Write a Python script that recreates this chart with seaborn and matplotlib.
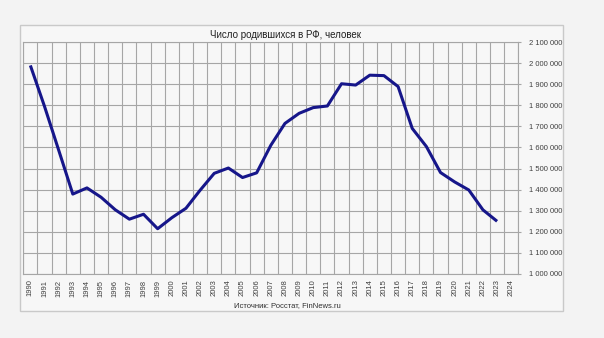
import matplotlib
matplotlib.use("Agg")
import matplotlib.pyplot as plt
from matplotlib.patches import Rectangle
from matplotlib.ticker import FuncFormatter, MultipleLocator
import seaborn as sns
import pandas as pd
import numpy as np

years = list(range(1990, 2024))
births = [1988858, 1794626, 1587644, 1378983, 1408159, 1363806, 1304638, 1259943,
          1283292, 1214689, 1266800, 1311604, 1396967, 1477301, 1502477, 1457376,
          1479637, 1610122, 1713947, 1761687, 1788948, 1796629, 1902084, 1895822,
          1942683, 1940579, 1888729, 1690307, 1604344, 1481074, 1436514, 1398253,
          1304087, 1250000]
tick_years = list(range(1990, 2025))
title = "Число родившихся в РФ, человек"
source = "Источник: Росстат, FinNews.ru"

df = pd.DataFrame({"year": years, "births": births})

sns.set_theme(style="white")
plt.rcParams["font.family"] = ["Liberation Sans", "DejaVu Sans"]

W, H = 604, 338
fig = plt.figure(figsize=(W / 100, H / 100), dpi=100, facecolor="#f3f3f3")

# chart frame
fx0, fy0, fx1, fy1 = 20, 25, 563, 311
fig.patches.append(Rectangle((fx0 / W, 1 - fy1 / H), (fx1 - fx0) / W, (fy1 - fy0) / H,
                             transform=fig.transFigure, facecolor="#f7f7f7",
                             edgecolor="#c9c9c9", linewidth=1.0, zorder=-5))

px0, py0, px1, py1 = 23.3, 42, 518.3, 274
ax = fig.add_axes([px0 / W, 1 - py1 / H, (px1 - px0) / W, (py1 - py0) / H])
ax.set_zorder(5)
ax.set_facecolor("#f7f7f7")

sns.lineplot(data=df, x="year", y="births", ax=ax, color="#16168a", linewidth=2.2,
             solid_capstyle="butt")

ax.set_xlim(1989.5, 2024.5)
ax.set_ylim(1_000_000, 2_100_000)
ax.set_xticks(tick_years)
ax.set_xticklabels([str(y) for y in tick_years], rotation=90, fontsize=5.5, color="#404040")
ax.set_xticks(np.arange(1989.5, 2025.0, 1.0), minor=True)
ax.tick_params(axis="x", which="major", length=0, pad=4)
ax.tick_params(axis="x", which="minor", length=3, width=0.8, color="#a6a6a6", direction="out")
ax.grid(which="minor", axis="x", color="#a6a6a6", linewidth=0.8)

ax.yaxis.tick_right()
ax.yaxis.set_major_locator(MultipleLocator(100_000))
ax.yaxis.set_major_formatter(FuncFormatter(lambda v, p: f"{int(v):,}".replace(",", " ")))
ax.tick_params(axis="y", which="major", labelsize=5.5, labelcolor="#404040", length=2.5,
               width=0.8, color="#a6a6a6", direction="out", pad=5, right=True, left=False)
ax.grid(which="major", axis="y", color="#a6a6a6", linewidth=0.8)
ax.set_xlabel("")
ax.set_ylabel("")
for s in ax.spines.values():
    s.set_color("#a6a6a6")
    s.set_linewidth(0.8)

fig.text(285 / W, 1 - 35 / H, title, ha="center", va="center", fontsize=7, color="#202020")
fig.text(287 / W, 1 - 306 / H, source, ha="center", va="center", fontsize=5.5, color="#303030")

fig.savefig("out.png", dpi=100, facecolor=fig.get_facecolor())
